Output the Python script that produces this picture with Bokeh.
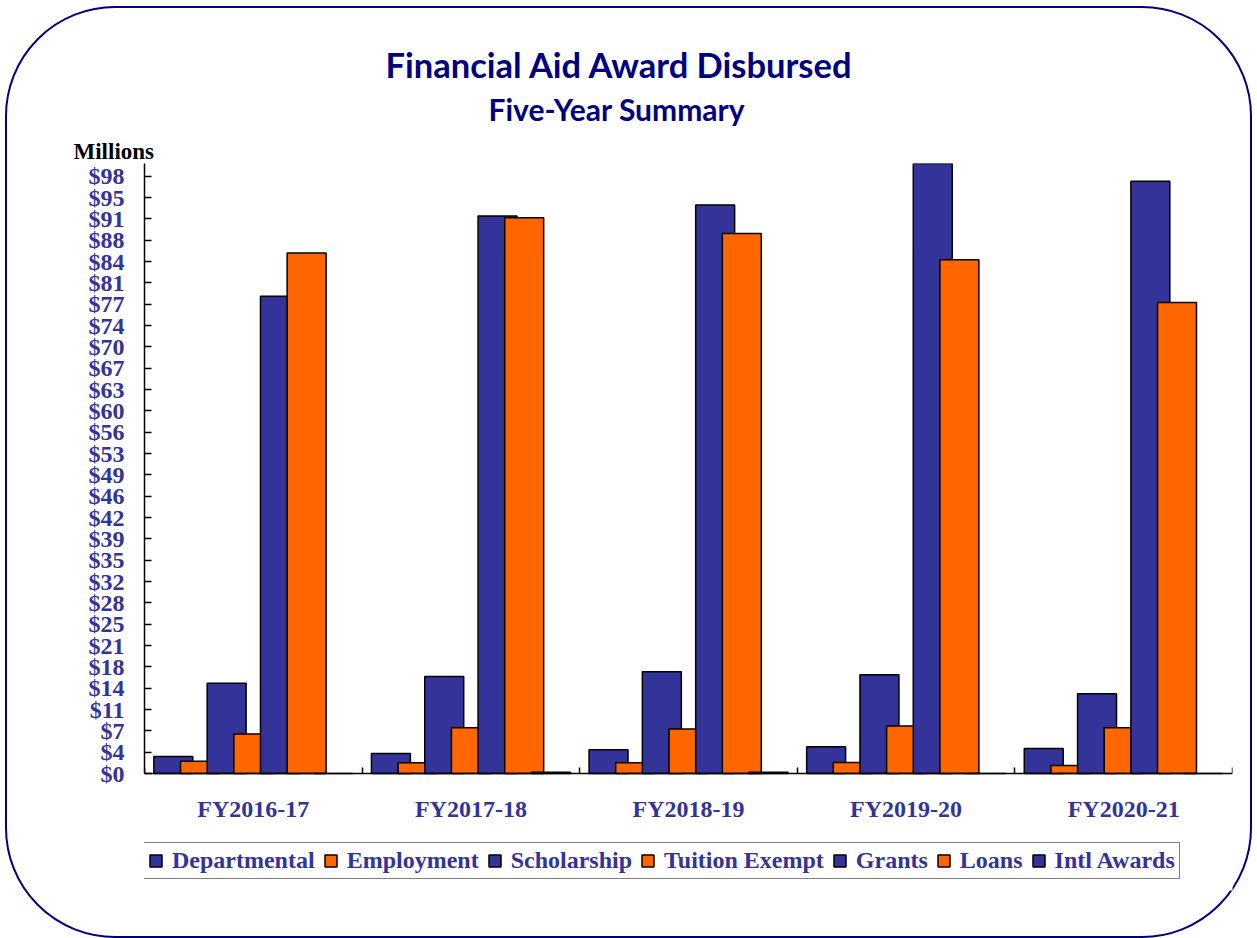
from bokeh.plotting import figure
from bokeh.models import FixedTicker, Legend, LegendItem, Title, ColumnDataSource, Range1d
from bokeh.embed import file_html
from bokeh.resources import INLINE

# ---- data (millions of dollars) ----
years = ["FY2016-17", "FY2017-18", "FY2018-19", "FY2019-20", "FY2020-21"]
series_names = ["Departmental", "Employment", "Scholarship", "Tuition Exempt",
                "Grants", "Loans", "Intl Awards"]
departmental = [2.8, 3.3, 3.9, 4.4, 4.1]
employment = [2.0, 1.75, 1.75, 1.8, 1.3]
scholarship = [14.8, 15.9, 16.7, 16.2, 13.1]
tuition_exempt = [6.5, 7.5, 7.3, 7.8, 7.5]
grants = [78.3, 91.5, 93.3, 100.1, 97.2]
loans = [85.4, 91.2, 88.6, 84.3, 77.3]
intl_awards = [0.0, 0.2, 0.2, 0.0, 0.0]
y_tick_values = [3.5 * k for k in range(29)]
y_tick_labels = ["$0", "$4", "$7", "$11", "$14", "$18", "$21", "$25", "$28", "$32",
                 "$35", "$39", "$42", "$46", "$49", "$53", "$56", "$60", "$63", "$67",
                 "$70", "$74", "$77", "$81", "$84", "$88", "$91", "$95", "$98"]

series_values = [departmental, employment, scholarship, tuition_exempt,
                 grants, loans, intl_awards]
BLUE = "#333399"
ORANGE = "#FF6600"
NAVY = "#000080"
colors = [BLUE, ORANGE, BLUE, ORANGE, BLUE, ORANGE, BLUE]

# layout: value axis 0..YMAX spans PLOT_H px; the frame continues below zero
# to hold the category labels and the legend
YMAX = 100.1
PLOT_H = 610
FRAME_H = 727
YMIN = YMAX - FRAME_H * YMAX / PLOT_H

p = figure(frame_width=1088, frame_height=FRAME_H,
           x_range=Range1d(0, len(years)), y_range=Range1d(YMIN, YMAX),
           output_backend="svg", toolbar_location=None,
           min_border_left=137, min_border_right=18,
           min_border_top=155, min_border_bottom=46)
p.styles = {"border": "2px solid " + NAVY, "border-radius": "110px",
            "margin-left": "5px", "margin-top": "6px"}
p.xgrid.visible = False
p.ygrid.visible = False
p.outline_line_color = None
p.background_fill_color = "white"
p.border_fill_color = None

step = 0.1225
bar_w = 0.179
items = []
for j, (name, vals) in enumerate(zip(series_names, series_values)):
    src = ColumnDataSource(dict(x=[i + 0.5 + (j - 3) * step for i in range(len(years))],
                                top=vals))
    r = p.vbar(x="x", top="top", bottom=0, width=bar_w, source=src,
               fill_color=colors[j], line_color="black", line_width=1.5)
    items.append(LegendItem(label=name, renderers=[r]))

# y axis
p.yaxis.ticker = FixedTicker(ticks=y_tick_values, minor_ticks=[])
p.yaxis.bounds = (0, YMAX)
p.yaxis.major_label_overrides = {v: l for v, l in zip(y_tick_values, y_tick_labels)}
p.yaxis.major_label_text_font = "Liberation Serif"
p.yaxis.major_label_text_font_style = "bold"
p.yaxis.major_label_text_font_size = "24px"
p.yaxis.major_label_text_color = BLUE
p.yaxis.major_tick_in = 7
p.yaxis.major_tick_out = 0
p.yaxis.major_label_standoff = 20
p.yaxis.axis_line_color = "black"
p.yaxis.axis_line_width = 1.5
p.yaxis.major_tick_line_color = "black"
p.yaxis.major_tick_line_width = 1.5

# x axis, drawn at value 0
centers = [i + 0.5 for i in range(len(years))]
p.xaxis.fixed_location = 0
p.xaxis.ticker = FixedTicker(ticks=centers, minor_ticks=list(range(len(years) + 1)))
p.xaxis.major_label_overrides = {c: y for c, y in zip(centers, years)}
p.xaxis.major_label_text_font = "Liberation Serif"
p.xaxis.major_label_text_font_style = "bold"
p.xaxis.major_label_text_font_size = "24px"
p.xaxis.major_label_text_color = BLUE
p.xaxis.major_tick_in = 0
p.xaxis.major_tick_out = 0
p.xaxis.minor_tick_in = 6
p.xaxis.minor_tick_out = 0
p.xaxis.minor_tick_line_color = "black"
p.xaxis.minor_tick_line_width = 1.5
p.xaxis.major_label_standoff = 22
p.xaxis.axis_line_color = "black"
p.xaxis.axis_line_width = 1.5

# titles (first added sits closest to the frame)
p.add_layout(Title(text="Millions", align="left", offset=-71,
                   text_font="Liberation Serif", text_font_style="bold",
                   text_font_size="23px", text_color="black", standoff=0), "above")
p.add_layout(Title(text="Five-Year Summary", align="left", offset=344,
                   text_font="Lato", text_font_style="bold",
                   text_font_size="30px", text_color=NAVY, standoff=19), "above")
p.add_layout(Title(text="Financial Aid Award Disbursed", align="left", offset=241,
                   text_font="Lato", text_font_style="bold",
                   text_font_size="34.5px", text_color=NAVY, standoff=-10), "above")

legend = Legend(items=items, orientation="horizontal", location=(-1, 11))
legend.border_line_color = "black"
legend.border_line_width = 1.5
legend.background_fill_color = "white"
legend.background_fill_alpha = 1.0
legend.label_text_font = "Liberation Serif"
legend.label_text_font_style = "bold"
legend.label_text_font_size = "24px"
legend.label_text_color = BLUE
legend.glyph_width = 15
legend.glyph_height = 15
legend.label_standoff = 9
legend.spacing = 8
legend.padding = 4
legend.margin = 0
p.add_layout(legend, "center")

open("out.html", "w").write(file_html(p, INLINE))
